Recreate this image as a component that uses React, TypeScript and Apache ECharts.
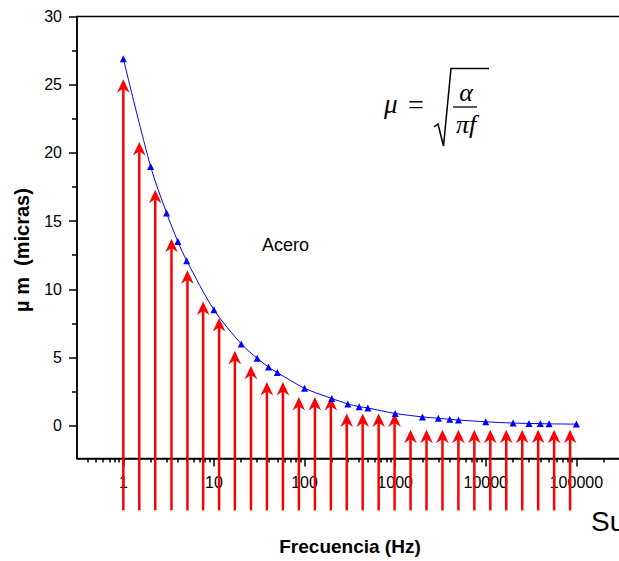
import React, { useEffect, useRef } from "react";
import * as echarts from "echarts";

// Blue curve: penetration depth (micras) vs frequency (Hz)
const freqHz = [1, 2, 3, 4, 5, 10, 20, 30, 40, 50, 100, 200, 300, 400, 500, 1000, 2000, 3000, 4000, 5000, 10000, 20000, 30000, 40000, 50000, 100000];
const depthUm = [26.9, 19.0, 15.6, 13.5, 12.1, 8.5, 6.0, 4.95, 4.3, 3.9, 2.75, 2.0, 1.6, 1.4, 1.3, 0.9, 0.65, 0.55, 0.47, 0.42, 0.29, 0.2, 0.17, 0.16, 0.14, 0.12];

// Red arrows: frequency position and arrow-tip level
const arrowFreq = [1, 1.5, 2.25, 3.4, 5.1, 7.6, 11.4, 17, 25.6, 38.4, 57.7, 86.5, 130, 195, 292, 438, 657, 985, 1478, 2217, 3325, 4988, 7482, 11220, 16830, 25250, 37880, 56820, 85230];
const arrowTip = [25.4, 20.8, 17.3, 13.7, 11.4, 9.1, 7.9, 5.5, 4.4, 3.2, 3.2, 2.1, 2.1, 2.1, 0.9, 0.9, 0.9, 0.9, -0.3, -0.3, -0.3, -0.3, -0.3, -0.3, -0.3, -0.3, -0.3, -0.3, -0.3];
const arrowBase = -6.2;

// Axis ticks
const xMajor = [1, 10, 100, 1000, 10000, 100000];
const xMinor = [0.4, 0.5, 0.6, 0.7, 0.8, 0.9, 2, 3, 4, 5, 6, 7, 8, 9, 20, 30, 40, 50, 60, 70, 80, 90, 200, 300, 400, 500, 600, 700, 800, 900, 2000, 3000, 4000, 5000, 6000, 7000, 8000, 9000, 20000, 30000, 40000, 50000, 60000, 70000, 80000, 90000, 200000, 300000];
const yMajor = [0, 5, 10, 15, 20, 25, 30];
const yMinor = [2.5, 7.5, 12.5, 17.5, 22.5, 27.5];

const X_MIN = 0.308;
const X_MAX = 1000000;
const Y_MIN = -2.4;
const Y_MAX = 30;

const GRID_LEFT = 77;
const GRID_TOP = 16.5;
const GRID_W = 590;
const GRID_H = 442;

const SANS = "Arial, 'Liberation Sans', sans-serif";
const SERIF = "'Liberation Serif', 'Times New Roman', serif";

export default function App() {
  const ref = useRef<HTMLDivElement>(null);
  useEffect(() => {
    const chart = echarts.init(ref.current!, null, { renderer: "svg" });
    const axisLine = { show: true, onZero: false, lineStyle: { color: "#000", width: 1.5 } };
    const option: any = {
      animation: false,
      backgroundColor: "#fff",
      grid: {
        left: GRID_LEFT,
        top: GRID_TOP,
        width: GRID_W,
        height: GRID_H,
        containLabel: false,
        outerBoundsMode: "none",
        show: true,
        borderColor: "#000",
        borderWidth: 1.5,
        backgroundColor: "transparent",
      },
      xAxis: [
        {
          type: "log",
          position: "bottom",
          min: X_MIN,
          max: X_MAX,
          axisLine,
          axisTick: { show: true, customValues: xMajor, length: 8, lineStyle: { color: "#000", width: 1.5 } },
          axisLabel: {
            customValues: xMajor,
            formatter: (v: number) => String(Math.round(v)),
            color: "#000",
            fontSize: 16,
            fontFamily: SANS,
            margin: 16,
          },
          splitLine: { show: false },
          minorTick: { show: false },
        },
        {
          type: "log",
          position: "top",
          offset: -GRID_H,
          min: X_MIN,
          max: X_MAX,
          axisLine: { show: false, onZero: false },
          axisTick: { show: true, inside: true, customValues: xMinor, length: 4, lineStyle: { color: "#000", width: 1.5 } },
          axisLabel: { show: false },
          splitLine: { show: false },
        },
      ],
      yAxis: [
        {
          type: "value",
          position: "left",
          min: Y_MIN,
          max: Y_MAX,
          axisLine,
          axisTick: { show: true, customValues: yMajor, length: 8, lineStyle: { color: "#000", width: 1.5 } },
          axisLabel: {
            customValues: yMajor,
            color: "#000",
            fontSize: 16,
            fontFamily: SANS,
            margin: 15,
          },
          splitLine: { show: false },
        },
        {
          type: "value",
          position: "right",
          offset: -GRID_W,
          min: Y_MIN,
          max: Y_MAX,
          axisLine: { show: false, onZero: false },
          axisTick: { show: true, inside: true, customValues: yMinor, length: 5, lineStyle: { color: "#000", width: 1.5 } },
          axisLabel: { show: false },
          splitLine: { show: false },
        },
      ],
      series: [
        {
          type: "custom",
          name: "arrows",
          xAxisIndex: 0,
          yAxisIndex: 0,
          clip: false,
          z: 2,
          data: arrowFreq.map((f, i) => [f, arrowTip[i]]),
          encode: { x: 0, y: 1 },
          renderItem: (params: any, api: any) => {
            const f = api.value(0);
            const t = api.value(1);
            const tip = api.coord([f, t]);
            const base = api.coord([f, arrowBase]);
            const x = tip[0];
            const y = tip[1];
            return {
              type: "group",
              children: [
                {
                  type: "line",
                  shape: { x1: x, y1: y + 8, x2: x, y2: base[1] },
                  style: { stroke: "#ff0000", lineWidth: 2.5 },
                },
                {
                  type: "polygon",
                  shape: { points: [[x, y], [x + 6.3, y + 13.4], [x, y + 9.2], [x - 6.3, y + 13.4]] },
                  style: { fill: "#ff0000", stroke: "none" },
                },
              ],
            };
          },
        },
        {
          type: "line",
          name: "Acero",
          xAxisIndex: 0,
          yAxisIndex: 0,
          z: 3,
          data: freqHz.map((f, i) => [f, depthUm[i]]),
          smooth: 0.3,
          symbol: "triangle",
          symbolSize: 7,
          showSymbol: true,
          itemStyle: { color: "#0000ff" },
          lineStyle: { color: "#0000ff", width: 1 },
        },
      ],
      graphic: [
        {
          type: "text",
          x: 22,
          y: 250,
          rotation: Math.PI / 2,
          style: {
            text: "\u00b5 m  (micras)",
            font: `bold 20px ${SANS}`,
            fill: "#000",
            textAlign: "center",
            textVerticalAlign: "middle",
          },
        },
        {
          type: "text",
          x: 350,
          y: 546,
          style: {
            text: "Frecuencia (Hz)",
            font: `bold 19px ${SANS}`,
            fill: "#000",
            textAlign: "center",
            textVerticalAlign: "middle",
          },
        },
        {
          type: "text",
          x: 262,
          y: 245,
          style: {
            text: "Acero",
            font: `18px ${SANS}`,
            fill: "#000",
            textAlign: "left",
            textVerticalAlign: "middle",
          },
        },
        {
          type: "text",
          x: 591,
          y: 521,
          style: {
            text: "Su",
            font: `28px ${SANS}`,
            fill: "#000",
            textAlign: "left",
            textVerticalAlign: "middle",
          },
        },
        {
          type: "text",
          x: 384,
          y: 104,
          style: { text: "\u03bc", font: `italic 27px ${SERIF}`, fill: "#000", textAlign: "left", textVerticalAlign: "middle" },
        },
        {
          type: "text",
          x: 408,
          y: 104,
          style: { text: "=", font: `28px ${SERIF}`, fill: "#000", textAlign: "left", textVerticalAlign: "middle" },
        },
        {
          type: "polyline",
          shape: { points: [[434, 127], [438, 124], [443.5, 146], [451, 68.5], [489, 68.5]] },
          style: { stroke: "#000", lineWidth: 1.5, fill: "none" },
        },
        {
          type: "text",
          x: 466,
          y: 92,
          style: { text: "\u03b1", font: `italic 26px ${SERIF}`, fill: "#000", textAlign: "center", textVerticalAlign: "middle" },
        },
        {
          type: "line",
          shape: { x1: 453, y1: 107, x2: 477, y2: 107 },
          style: { stroke: "#000", lineWidth: 1.3 },
        },
        {
          type: "text",
          x: 466,
          y: 124,
          style: { text: "\u03c0f", font: `italic 26px ${SERIF}`, fill: "#000", textAlign: "center", textVerticalAlign: "middle" },
        },
      ],
    };
    chart.setOption(option);
    return () => chart.dispose();
  }, []);
  return (
    <div
      ref={ref}
      style={{ position: "fixed", left: 0, top: 0, width: 619, height: 561, background: "#fff", overflow: "hidden" }}
    />
  );
}
